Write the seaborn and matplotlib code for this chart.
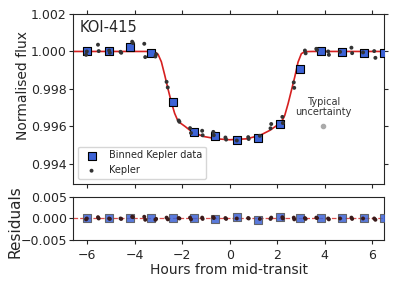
import numpy as np
import pandas as pd
import matplotlib
matplotlib.use("Agg")
import matplotlib.pyplot as plt
import seaborn as sns

# binned Kepler data (hours from mid-transit, normalised flux, residual)
bin_time = [-6.0, -5.1, -4.2, -3.3, -2.4, -1.5, -0.6, 0.3, 1.2, 2.1, 2.97, 3.85, 4.75, 5.65, 6.5]
bin_flux = [1.00005, 1.00005, 1.00025, 0.99993, 0.99728, 0.99570, 0.99548, 0.99529,
            0.99540, 0.99614, 0.99909, 1.00004, 0.99998, 0.99993, 0.99993]
bin_resid = [0.0, 0.0, 0.0001, 0.0002, 0.0, 0.0, -0.0001, 0.0004,
             -0.0003, 0.0004, 0.0001, 0.0, 0.0, 0.0001, 0.0]

# individual Kepler points
kep_time = [-6.05, -6.02, -5.55, -5.52, -5.08, -5.05, -4.60, -4.57, -4.11, -4.08,
            -3.60, -3.56, -3.13, -3.10, -2.66, -2.61, -2.15, -2.12, -1.67, -1.63,
            -1.16, -1.14, -0.69, -0.67, -0.18, -0.15, 0.30, 0.78, 0.80, 1.27,
            1.72, 1.75, 2.22, 2.24, 2.70, 2.72, 3.17, 3.20, 3.65, 3.68,
            4.15, 4.18, 4.65, 5.13, 5.16, 5.62, 6.09, 6.14]
kep_flux = [0.99982, 1.00000, 1.00036, 1.00002, 1.00005, 0.99993, 0.99998, 0.99993, 1.00052, 1.00045,
            1.00041, 0.99970, 0.99973, 0.99985, 0.99838, 0.99808, 0.99632, 0.99625, 0.99591, 0.99565,
            0.99577, 0.99553, 0.99571, 0.99553, 0.99541, 0.99530, 0.99525, 0.99543, 0.99533, 0.99550,
            0.99590, 0.99613, 0.99651, 0.99618, 0.99835, 0.99806, 1.00005, 0.99990, 1.00014, 1.00008,
            1.00000, 0.99982, 0.99998, 1.00020, 0.99991, 0.99995, 1.00002, 0.99966]
kep_resid = [-0.0002, 0.0, 0.0003, 0.0, 0.0, -0.0001, 0.0, -0.0001, 0.0004, 0.0003,
             0.0004, -0.0003, -0.0003, -0.0001, 0.0002, -0.0002, 0.0001, 0.0, 0.0002, -0.0002,
             0.0002, -0.0001, 0.0003, 0.0001, 0.0001, -0.0001, 0.0, 0.0001, 0.0, -0.0001,
             -0.0001, 0.0002, 0.0003, 0.0, 0.0002, -0.0002, 0.0001, -0.0001, 0.0002, 0.0001,
             0.0, -0.0002, 0.0, 0.0002, -0.0001, 0.0, 0.0, -0.0003]

# transit model
model_time = [-6.6, -3.5, -3.16, -3.02, -2.88, -2.74, -2.60, -2.46, -2.32, -2.20, -2.10,
              -1.88, -1.60, -1.12, -0.55, 0.0, 0.71, 1.27, 1.69, 2.04, 2.11, 2.25, 2.32,
              2.46, 2.60, 2.74, 2.88, 3.02, 3.16, 3.5, 6.6]
model_flux = [1.0, 1.0, 0.99998, 0.99985, 0.99945, 0.99875, 0.99800, 0.99730, 0.99670, 0.99635, 0.99620,
              0.99600, 0.99572, 0.99547, 0.99534, 0.99529, 0.99534, 0.99552, 0.99579, 0.99610, 0.99616,
              0.99640, 0.99659, 0.99721, 0.99792, 0.99863, 0.99943, 0.99988, 0.99999, 1.0, 1.0]

sns.set_style("ticks")
plt.rcParams['font.family'] = ['DejaVu Sans']

BLUE = "#3d63d6"
DOT = "#333333"
RED = "#d62020"

fig = plt.figure(figsize=(3.95, 2.82), dpi=100)
ax = fig.add_axes([0.185, 0.3475, 0.787, 0.603])
axr = fig.add_axes([0.185, 0.149, 0.787, 0.1525])

binned = pd.DataFrame({"time": bin_time, "flux": bin_flux, "resid": bin_resid})
kep = pd.DataFrame({"time": kep_time, "flux": kep_flux, "resid": kep_resid})
model = pd.DataFrame({"time": model_time, "flux": model_flux})

sns.lineplot(data=model, x="time", y="flux", ax=ax, color=RED, lw=1.2, sort=False, zorder=2)
sns.scatterplot(data=binned, x="time", y="flux", ax=ax, marker="s", s=38, color=BLUE,
                edgecolor="black", linewidth=0.8, label="Binned Kepler data", zorder=3)
sns.scatterplot(data=kep, x="time", y="flux", ax=ax, marker="o", s=8, color=DOT,
                edgecolor="none", label="Kepler", zorder=4)

# typical uncertainty marker
ax.errorbar([3.95], [0.996], yerr=[0.00003], fmt="o", ms=3, color="#aaaaaa", zorder=3)
ax.text(3.95, 0.99648, "Typical\nuncertainty", ha="center", va="bottom", fontsize=7,
        color="#333333", linespacing=1.1)

ax.text(0.02, 0.965, "KOI-415", transform=ax.transAxes, ha="left", va="top", fontsize=10.5)

ax.set_xlim(-6.6, 6.5)
ax.set_ylim(0.99293, 1.002)
ax.set_yticks([0.994, 0.996, 0.998, 1.000, 1.002])
ax.set_xticks([-6, -4, -2, 0, 2, 4, 6])
ax.set_xticklabels([])
ax.set_xlabel("")
ax.set_ylabel("Normalised flux", fontsize=10)
ax.yaxis.set_label_coords(-0.138, 0.58)
ax.tick_params(labelsize=9, top=True, right=True, length=3)
ax.tick_params(axis="y", pad=1.5)
ax.legend(loc="lower left", fontsize=7, frameon=True, borderpad=0.4, handletextpad=0.8,
          markerscale=1.0)

axr.axhline(0, color=RED, ls="--", lw=0.9, alpha=0.8, zorder=1)
sns.scatterplot(data=binned, x="time", y="resid", ax=axr, marker="s", s=38, color=BLUE,
                edgecolor="#555555", linewidth=0.8, alpha=0.85, zorder=3, legend=False)
sns.scatterplot(data=kep, x="time", y="resid", ax=axr, marker="o", s=8, color="#3a1a1a",
                edgecolor="none", zorder=4, legend=False)
axr.set_xlim(-6.6, 6.5)
axr.set_ylim(-0.005, 0.005)
axr.set_yticks([-0.005, 0.0, 0.005])
axr.set_xticks([-6, -4, -2, 0, 2, 4, 6])
axr.set_xlabel("Hours from mid-transit", fontsize=10, labelpad=1)
axr.set_ylabel("Residuals", fontsize=11)
axr.yaxis.set_label_coords(-0.164, 0.42)
axr.tick_params(labelsize=9, length=3)
axr.tick_params(axis="y", pad=1.5)

fig.savefig("out.png", dpi=100)
